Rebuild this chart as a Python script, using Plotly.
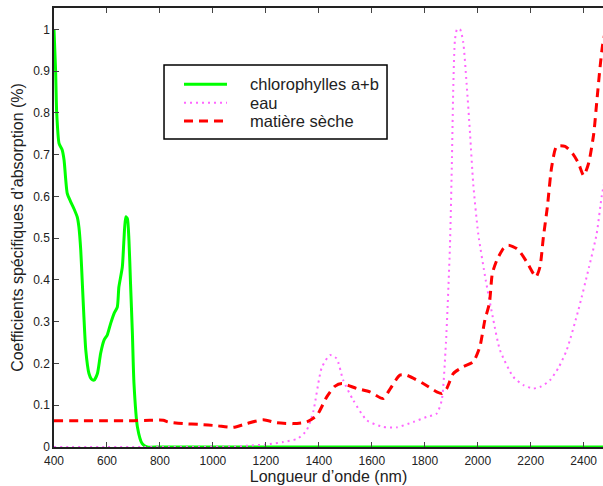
import plotly.graph_objects as go

# Chlorophylles a+b
chl_wl = [400, 406, 410, 419, 431, 438, 450, 463, 475, 488, 494, 501, 507, 513, 520, 532, 541, 551,
          564, 576, 589, 601, 614, 627, 639, 645, 658, 664, 671, 677, 683, 689, 696, 702, 715, 733,
          752, 800, 1000, 1500, 2000, 2500]
chl_val = [1.0, 0.902, 0.803, 0.727, 0.711, 0.687, 0.607, 0.587, 0.571, 0.550, 0.527, 0.471, 0.391,
           0.311, 0.232, 0.176, 0.163, 0.160, 0.176, 0.224, 0.256, 0.268, 0.296, 0.320, 0.335, 0.383,
           0.431, 0.495, 0.551, 0.547, 0.495, 0.391, 0.272, 0.152, 0.048, 0.008, 0.0, 0.0, 0.0, 0.0,
           0.0, 0.0]

# Eau
eau_wl = [400, 800, 1100, 1127, 1200, 1266, 1320, 1354, 1379, 1411, 1442, 1467, 1492, 1530, 1581,
          1643, 1694, 1757, 1807, 1845, 1864, 1880, 1895, 1902, 1908, 1914, 1922, 1933, 1945, 1958,
          1971, 1983, 2002, 2030, 2059, 2084, 2134, 2173, 2210, 2240, 2273, 2305, 2336, 2380, 2420,
          2449, 2468, 2480]
eau_val = [0.0, 0.0, 0.001, 0.003, 0.006, 0.012, 0.02, 0.04, 0.085, 0.19, 0.22, 0.212, 0.16, 0.112,
           0.064, 0.048, 0.047, 0.06, 0.072, 0.08, 0.112, 0.25, 0.48, 0.67, 0.87, 0.975, 1.0, 1.0,
           0.97, 0.87, 0.75, 0.63, 0.51, 0.40, 0.304, 0.232, 0.168, 0.148, 0.14, 0.145, 0.16, 0.19,
           0.232, 0.328, 0.43, 0.51, 0.60, 0.64]

# Matière sèche
ms_wl = [400, 500, 600, 700, 762, 813, 830, 888, 950, 1014, 1077, 1127, 1190, 1241, 1304, 1354,
         1392, 1430, 1460, 1487, 1543, 1593, 1643, 1670, 1706, 1731, 1794, 1845, 1865, 1883, 1908,
         1945, 1983, 2008, 2027, 2044, 2055, 2072, 2097, 2116, 2147, 2160, 2185, 2210, 2220, 2235,
         2248, 2263, 2279, 2298, 2330, 2361, 2380, 2400, 2419, 2438, 2450, 2462, 2471, 2480]
ms_val = [0.063, 0.063, 0.063, 0.063, 0.064, 0.064, 0.060, 0.056, 0.054, 0.051, 0.047, 0.056, 0.065,
          0.058, 0.056, 0.060, 0.075, 0.12, 0.145, 0.152, 0.14, 0.132, 0.116, 0.14, 0.172, 0.172,
          0.152, 0.132, 0.128, 0.14, 0.176, 0.192, 0.204, 0.24, 0.304, 0.344, 0.415, 0.447, 0.475,
          0.483, 0.475, 0.467, 0.443, 0.415, 0.407, 0.431, 0.503, 0.575, 0.67, 0.72, 0.72, 0.70,
          0.68, 0.65, 0.68, 0.75, 0.83, 0.91, 0.96, 0.99]

series_names = ["chlorophylles a+b", "eau", "matière sèche"]
series_colors = ["#00ff00", "#ff66ff", "#ff0000"]
series_dash = ["solid", "2px,4px", "9px,6px"]
series_width = [3, 2, 3]

x_ticks = [400, 600, 800, 1000, 1200, 1400, 1600, 1800, 2000, 2200, 2400]
y_ticks = [0, 0.1, 0.2, 0.3, 0.4, 0.5, 0.6, 0.7, 0.8, 0.9, 1]
y_ticklabels = ["0", "0.1", "0.2", "0.3", "0.4", "0.5", "0.6", "0.7", "0.8", "0.9", "1"]

fig = go.Figure()
for (wl, val), name, col, dash, w in zip([(chl_wl, chl_val), (eau_wl, eau_val), (ms_wl, ms_val)],
                                         series_names, series_colors, series_dash, series_width):
    fig.add_trace(go.Scatter(x=wl, y=val, mode="lines", name=name,
                             line=dict(color=col, width=w, dash=dash, shape="spline",
                                       smoothing=0.6),
                             cliponaxis=False))

font_family = "Liberation Sans, Arial, sans-serif"

# Legend drawn as a box (paper coordinates of the plot area)
box = dict(x0=0.2004, x1=0.6066, y0=0.7016, y1=0.8702)
sample_x = (0.2368, 0.3151)
entry_y = [0.8262, 0.7843, 0.7426]
text_x = 0.3534

shapes = [dict(type="rect", xref="paper", yref="paper", x0=box["x0"], x1=box["x1"],
               y0=box["y0"], y1=box["y1"], line=dict(color="black", width=1.5),
               fillcolor="white", layer="above")]
annotations = []
for name, col, dash, w, yy in zip(series_names, series_colors, series_dash, series_width, entry_y):
    shapes.append(dict(type="line", xref="paper", yref="paper", x0=sample_x[0], x1=sample_x[1],
                       y0=yy, y1=yy, line=dict(color=col, width=w, dash=dash), layer="above"))
    annotations.append(dict(text=name, xref="paper", yref="paper", x=text_x, y=yy,
                            xanchor="left", yanchor="middle", showarrow=False,
                            font=dict(size=16.5, family=font_family, color="#222222")))

fig.update_layout(
    width=603, height=486,
    margin=dict(l=54, r=0, t=8, b=39),
    paper_bgcolor="white", plot_bgcolor="white",
    font=dict(family=font_family, color="#222222", size=12),
    showlegend=False,
    shapes=shapes,
    annotations=annotations,
    xaxis=dict(range=[400, 2473], tickvals=x_ticks, ticks="inside", ticklen=5,
               tickcolor="#444444", showline=True, linecolor="#222222", linewidth=1.5,
               mirror="ticks", showgrid=False, zeroline=False,
               tickfont=dict(size=12), ticklabelstandoff=2,
               title=dict(text="Longueur d’onde (nm)", font=dict(size=16), standoff=3)),
    yaxis=dict(range=[0, 1.051], tickvals=y_ticks, ticktext=y_ticklabels, ticks="inside",
               ticklen=5, tickcolor="#444444", showline=True, linecolor="#222222", linewidth=1.5,
               showgrid=False, zeroline=False, tickfont=dict(size=12),
               title=dict(text="Coefficients spécifiques d’absorption (%)", font=dict(size=16),
                          standoff=6)),
)
fig.write_html("out.html")
